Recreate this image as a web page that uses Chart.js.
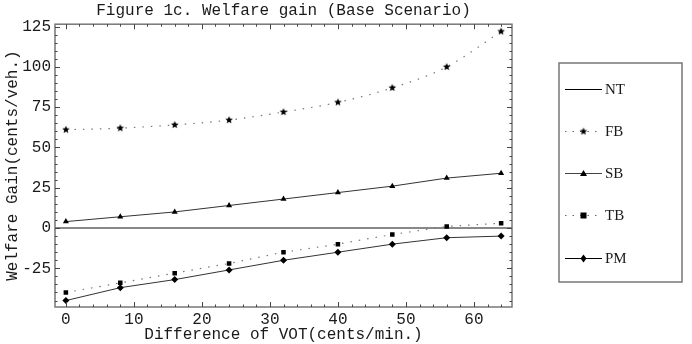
<!DOCTYPE html>
<html>
<head>
<meta charset="utf-8">
<script src="https://cdn.jsdelivr.net/npm/chart.js@4/dist/chart.umd.min.js"></script>
<style>
  html, body { margin: 0; padding: 0; background: #fff; }
  #wrap { width: 692px; height: 344px; position: relative; }
</style>
</head>
<body>
<div id="wrap"><canvas id="c" width="692" height="344"></canvas></div>
<script>
// ---- Data ----
const vot = [0, 8, 16, 24, 32, 40, 48, 56, 64];
const NT = [0, 0];
const FB = [61, 62, 64, 67, 72, 78, 87, 100, 122];
const SB = [4, 7, 10, 14, 18, 22, 26, 31, 34];
const TB = [-40, -34, -28, -22, -15, -10, -4, 1, 3];
const PM = [-45, -37, -32, -26, -20, -15, -10, -6, -5];
const xTicks = [0, 10, 20, 30, 40, 50, 60];
const yTicks = [-25, 0, 25, 50, 75, 100, 125];
const seriesNames = ['NT', 'FB', 'SB', 'TB', 'PM'];

const X_MIN = -1.6, X_MAX = 65.6, Y_MIN = -49, Y_MAX = 126.5;

const pts = (ys) => ys.map((y, i) => ({ x: vot[i], y }));

// filled star point style
function makeStar(r) {
  const c = document.createElement('canvas');
  const s = Math.ceil(r * 2 + 2);
  c.width = s; c.height = s;
  const g = c.getContext('2d');
  g.fillStyle = '#000';
  g.beginPath();
  for (let i = 0; i < 10; i++) {
    const rad = i % 2 === 0 ? r : r * 0.45;
    const a = -Math.PI / 2 + i * Math.PI / 5;
    const px = s / 2 + rad * Math.cos(a), py = s / 2 + rad * Math.sin(a);
    if (i === 0) g.moveTo(px, py); else g.lineTo(px, py);
  }
  g.closePath(); g.fill();
  return c;
}
const starImg = makeStar(4);

const MONO = '"Liberation Mono", "DejaVu Sans Mono", monospace';
const SERIF = '"Liberation Serif", "DejaVu Serif", serif';
const TXT = '#1a1a1a';

const legendStyles = [
  { dash: [], color: '#000', marker: null },
  { dash: [1.5, 6], color: '#666', marker: 'star' },
  { dash: [], color: '#444', marker: 'triangle' },
  { dash: [1.5, 6], color: '#666', marker: 'rect' },
  { dash: [], color: '#000', marker: 'diamond' }
];

function drawMarker(ctx, type, x, y) {
  ctx.save();
  ctx.fillStyle = '#000';
  ctx.beginPath();
  if (type === 'star') {
    ctx.drawImage(starImg, x - starImg.width / 2, y - starImg.height / 2);
  } else if (type === 'triangle') {
    ctx.moveTo(x, y - 3.5); ctx.lineTo(x + 3.5, y + 2.5); ctx.lineTo(x - 3.5, y + 2.5); ctx.closePath(); ctx.fill();
  } else if (type === 'rect') {
    ctx.fillRect(x - 3, y - 3, 6, 6);
  } else if (type === 'diamond') {
    ctx.moveTo(x, y - 4); ctx.lineTo(x + 3, y); ctx.lineTo(x, y + 4); ctx.lineTo(x - 3, y); ctx.closePath(); ctx.fill();
  }
  ctx.restore();
}

const framePlugin = {
  id: 'framePlugin',
  afterDraw(chart) {
    const { ctx, chartArea: a, scales: { x, y } } = chart;
    ctx.save();
    // frame
    ctx.strokeStyle = '#777';
    ctx.lineWidth = 1.5;
    ctx.strokeRect(a.left, a.top, a.right - a.left, a.bottom - a.top);
    // ticks inside frame
    ctx.strokeStyle = '#444';
    ctx.lineWidth = 1;
    ctx.beginPath();
    for (let v = 0; v <= 64; v += 2) {
      const px = Math.round(x.getPixelForValue(v)) + 0.5;
      const len = v % 10 === 0 ? 5 : 2.5;
      ctx.moveTo(px, a.bottom); ctx.lineTo(px, a.bottom - len);
      ctx.moveTo(px, a.top); ctx.lineTo(px, a.top + len);
    }
    for (let v = -45; v <= 125; v += 5) {
      const py = Math.round(y.getPixelForValue(v)) + 0.5;
      const len = v % 25 === 0 ? 5 : 2.5;
      ctx.moveTo(a.left, py); ctx.lineTo(a.left + len, py);
      ctx.moveTo(a.right, py); ctx.lineTo(a.right - len, py);
    }
    ctx.stroke();

    // legend box
    const lx = 559, ly = 63, lw = 123, lh = 219;
    ctx.strokeStyle = '#777';
    ctx.lineWidth = 1.5;
    ctx.strokeRect(lx, ly, lw, lh);
    const rows = [89, 131, 173, 215, 258];
    ctx.font = '15px ' + SERIF;
    ctx.textBaseline = 'middle';
    ctx.textAlign = 'left';
    seriesNames.forEach((name, i) => {
      const st = legendStyles[i];
      const yy = rows[i] + 0.5;
      ctx.save();
      ctx.strokeStyle = st.color;
      ctx.lineWidth = 1;
      ctx.setLineDash(st.dash);
      ctx.beginPath();
      ctx.moveTo(565, yy); ctx.lineTo(602, yy);
      ctx.stroke();
      ctx.restore();
      if (st.marker) drawMarker(ctx, st.marker, 583.5, yy);
      ctx.fillStyle = TXT;
      ctx.fillText(name, 605, yy + 1);
    });
    ctx.restore();
  }
};

new Chart(document.getElementById('c'), {
  type: 'scatter',
  data: {
    datasets: [
      { label: 'NT', data: [{ x: X_MIN, y: NT[0] }, { x: X_MAX, y: NT[1] }], showLine: true,
        borderColor: '#888', borderWidth: 2, pointRadius: 0, order: 5 },
      { label: 'FB', data: pts(FB), showLine: true, borderColor: '#777', borderWidth: 1.2,
        borderDash: [1.5, 7], pointStyle: starImg, pointRadius: 4, cubicInterpolationMode: 'monotone', tension: 0.4 },
      { label: 'SB', data: pts(SB), showLine: true, borderColor: '#333', borderWidth: 1,
        pointStyle: 'triangle', pointRadius: 3.5, pointBackgroundColor: '#000', pointBorderColor: '#000', pointBorderWidth: 0 },
      { label: 'TB', data: pts(TB), showLine: true, borderColor: '#777', borderWidth: 1.2,
        borderDash: [1.5, 7], pointStyle: 'rect', pointRadius: 3.2, pointBackgroundColor: '#000', pointBorderColor: '#000', pointBorderWidth: 0 },
      { label: 'PM', data: pts(PM), showLine: true, borderColor: '#333', borderWidth: 1,
        pointStyle: 'rectRot', pointRadius: 3.5, pointBackgroundColor: '#000', pointBorderColor: '#000', pointBorderWidth: 0 }
    ]
  },
  options: {
    responsive: false,
    animation: false,
    devicePixelRatio: 1,
    layout: { padding: { left: 0, right: 180, top: 0, bottom: 0 } },
    plugins: {
      legend: { display: false },
      tooltip: { enabled: false },
      title: {
        display: true,
        fullSize: false,
        text: 'Figure 1c. Welfare gain (Base Scenario)',
        color: TXT,
        font: { family: MONO, size: 16, weight: 'normal', lineHeight: 1.2 },
        padding: { top: 1, bottom: 4 },
        align: 'center'
      }
    },
    scales: {
      x: {
        type: 'linear', min: X_MIN, max: X_MAX,
        afterBuildTicks: (s) => { s.ticks = xTicks.map(v => ({ value: v })); },
        afterFit: (s) => { s.height = 37; },
        grid: { display: false, drawTicks: false },
        border: { display: false },
        ticks: { color: TXT, font: { family: MONO, size: 16 }, padding: 3, maxRotation: 0 },
        title: { display: true, text: 'Difference of VOT(cents/min.)', color: TXT,
                 font: { family: MONO, size: 16 }, padding: { top: -3, bottom: 0 } }
      },
      y: {
        type: 'linear', min: Y_MIN, max: Y_MAX,
        afterBuildTicks: (s) => { s.ticks = yTicks.map(v => ({ value: v })); },
        afterFit: (s) => { s.width = 55; },
        grid: { display: false, drawTicks: false },
        border: { display: false },
        ticks: { color: TXT, font: { family: MONO, size: 16 }, padding: 4 },
        title: { display: true, text: 'Welfare Gain(cents/veh.)', color: TXT,
                 font: { family: MONO, size: 16 }, padding: { top: 3, bottom: 0 } }
      }
    }
  },
  plugins: [framePlugin]
});
</script>
</body>
</html>
